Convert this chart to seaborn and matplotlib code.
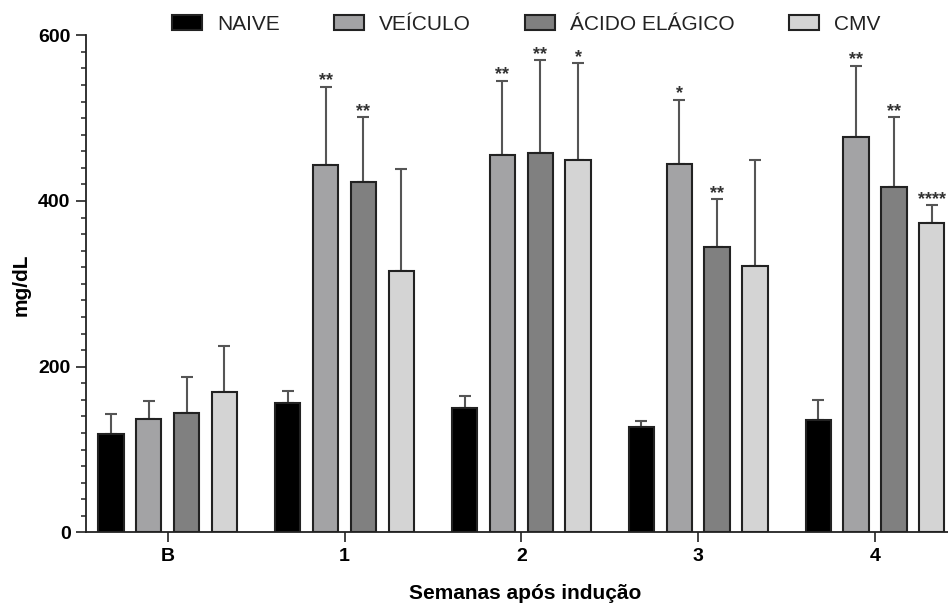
import pandas as pd
import matplotlib
matplotlib.use("Agg")
import matplotlib.pyplot as plt
import seaborn as sns
from matplotlib.ticker import MultipleLocator

# === DATA ===
weeks = ["B", "1", "2", "3", "4"]
groups = ["NAIVE", "VEÍCULO", "ÁCIDO ELÁGICO", "CMV"]

naive_mean = [119, 156, 150, 127, 136]
naive_err = [24, 15, 15, 8, 24]
veiculo_mean = [137, 444, 456, 445, 477]
veiculo_err = [21, 94, 89, 77, 86]
acido_mean = [144, 423, 458, 345, 417]
acido_err = [44, 78, 112, 57, 84]
cmv_mean = [169, 315, 450, 321, 373]
cmv_err = [56, 124, 116, 129, 22]

naive_sig = ["", "", "", "", ""]
veiculo_sig = ["", "**", "**", "*", "**"]
acido_sig = ["", "**", "**", "**", "**"]
cmv_sig = ["", "", "*", "", "****"]

colors = {"NAIVE": "#000000", "VEÍCULO": "#a2a2a6",
          "ÁCIDO ELÁGICO": "#808080", "CMV": "#d4d4d4"}

means = [naive_mean, veiculo_mean, acido_mean, cmv_mean]
errs = [naive_err, veiculo_err, acido_err, cmv_err]
sigs = [naive_sig, veiculo_sig, acido_sig, cmv_sig]

rows = []
for g, m in zip(groups, means):
    for w, v in zip(weeks, m):
        rows.append({"semana": w, "grupo": g, "valor": v})
df = pd.DataFrame(rows)

# === PLOT ===
sns.set_style("ticks")
plt.rcParams["font.family"] = ["Liberation Sans", "DejaVu Sans"]
plt.rcParams["text.color"] = "black"
plt.rcParams["axes.labelcolor"] = "black"
plt.rcParams["xtick.labelcolor"] = "black"
plt.rcParams["ytick.labelcolor"] = "black"

fig = plt.figure(figsize=(9.48, 6.08), dpi=100)
ax = fig.add_axes([86 / 948, (608 - 532.4) / 608, (948 - 86) / 948, (532.4 - 35.3) / 608])

sns.barplot(data=df, x="semana", y="valor", hue="grupo", order=weeks,
            hue_order=groups, palette=colors, width=0.855, gap=0.33,
            errorbar=None, edgecolor="#222222", linewidth=1.5,
            legend=False, ax=ax)
bar_conts = list(ax.containers)

# error bars (upper only) and significance stars
for cont, e, s in zip(bar_conts, errs, sigs):
    xs = [b.get_x() + b.get_width() / 2 for b in cont.patches]
    tops = [b.get_height() for b in cont.patches]
    ax.errorbar(xs, tops, yerr=[[0] * len(e), e], fmt="none",
                ecolor="#555555", elinewidth=1.5, capsize=4.3,
                capthick=1.5, zorder=0.5)
    for x, t, err, lab in zip(xs, tops, e, s):
        if lab:
            ax.annotate(lab, xy=(x, t + err), xytext=(0, 1),
                        textcoords="offset points", ha="center",
                        va="baseline", fontsize=13, fontweight="bold",
                        color="#333333", annotation_clip=False)

ax.set_ylim(0, 600)
ax.set_xlim(-0.462, 4.413)
ax.yaxis.set_major_locator(MultipleLocator(200))
ax.yaxis.set_minor_locator(MultipleLocator(20))

sns.despine(ax=ax)
for side in ["left", "bottom"]:
    ax.spines[side].set_linewidth(1.3)
    ax.spines[side].set_color("#222222")

ax.tick_params(axis="both", which="major", length=7.5, width=1.2,
               color="#222222", labelsize=14, labelcolor="black")
ax.tick_params(axis="y", which="minor", length=3.6, width=1.1, color="#222222")
ax.tick_params(axis="x", pad=3.8)
ax.tick_params(axis="y", pad=3.6)
for lbl in ax.get_xticklabels() + ax.get_yticklabels():
    lbl.set_fontweight("bold")

ax.set_xlabel("Semanas após indução", fontsize=15, fontweight="bold", color="black")
ax.set_ylabel("mg/dL", fontsize=15, fontweight="bold", color="black")
ax.xaxis.set_label_coords((525 - 86) / 862, -0.104)
ax.yaxis.set_label_coords(-0.064, 0.498)

handles = [c.patches[0] for c in bar_conts]
leg = ax.legend(handles, groups, ncol=4, frameon=False, fontsize=15,
                loc="center left", bbox_to_anchor=(172 / 948, 1 - 24 / 608),
                bbox_transform=fig.transFigure, borderpad=0, borderaxespad=0,
                handlelength=1.44, handleheight=0.72, handletextpad=0.72,
                columnspacing=2.6)
for t in leg.get_texts():
    t.set_color("#222222")

fig.savefig("out.png", dpi=100)
